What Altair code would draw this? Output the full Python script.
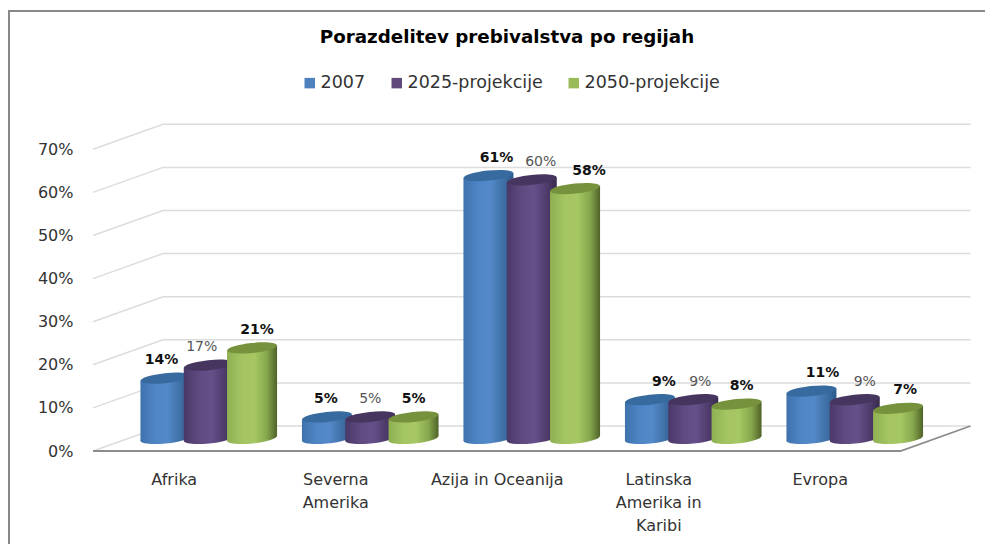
import altair as alt
import pandas as pd

CHART_TITLE = "Porazdelitev prebivalstva po regijah"
REGIONS = ["Afrika", "Severna|Amerika", "Azija in Oceanija", "Latinska|Amerika in|Karibi", "Evropa"]
SERIES = ["2007", "2025-projekcije", "2050-projekcije"]
V2007 = [14, 5, 61, 9, 11]
V2025 = [17, 5, 60, 9, 9]
V2050 = [21, 5, 58, 8, 7]
Y_TICKS = [0, 10, 20, 30, 40, 50, 60, 70]

# ---- layout of the pseudo 3D box, in scale units ----
STEP_PX = 161.5
PX_PER_PCT = 4.31
PLOT_W, PLOT_H = 892, 351
DEPTH_X = 70 / STEP_PX
DEPTH_Y = 25 / PX_PER_PCT
HALF_W = 25 / STEP_PX
TILT = 2.5 / PX_PER_PCT
SPACING = 43.3 / STEP_PX
FONT = "DejaVu Sans"

LEGEND_COLORS = ["#4f81bd", "#604a7b", "#9bbb59"]
TOP_COLORS = ["#376a9e", "#46355f", "#76923c"]
STOPS = [
    ["#3f72ad", "#4f86c6", "#5389c8", "#3f6fa5", "#2e5a8c"],
    ["#4a3868", "#604a80", "#66508a", "#4f3c6c", "#382a4c"],
    ["#8fb052", "#a4c562", "#a6c763", "#86a64c", "#4f6228"],
]
OFFSETS = [0, 0.3, 0.55, 0.8, 1]
VALUES = [V2007, V2025, V2050]
NUDGE_PX = [[-4, -1, 8, 14, 11], [-7, 0, 9, 7, 10], [5, 0, 14, 5, 7]]

x_scale = alt.Scale(domain=[0, PLOT_W / STEP_PX], nice=False, zero=False)
y_scale = alt.Scale(domain=[0, PLOT_H / PX_PER_PCT], nice=False, zero=False)
X = alt.X(
    "x:Q", scale=x_scale, title=None,
    axis=alt.Axis(
        values=[i + 0.5 for i in range(5)], grid=False, domain=False, ticks=False,
        labelExpr="split(['" + "','".join(REGIONS) + "'][floor(datum.value)], '|')",
        labelFont=FONT, labelFontSize=16, labelColor="#333333", labelPadding=20,
        labelLineHeight=23, labelBaseline="top", labelAlign="center", labelFlush=False, labelOverlap=False,
    ),
)
Y = alt.Y(
    "y:Q", scale=y_scale, title=None,
    axis=alt.Axis(
        values=Y_TICKS, grid=False, domain=False, ticks=False, format=".0f",
        labelExpr="datum.value + '%'", labelFont=FONT, labelFontSize=16,
        labelColor="#333333", labelPadding=20, labelOverlap=False,
    ),
)

# ---- grid / floor ----
grid_rows = []
for v in Y_TICKS:
    grid_rows += [
        {"x": 0, "y": v, "k": v},
        {"x": DEPTH_X, "y": v + DEPTH_Y, "k": v},
        {"x": 5 + DEPTH_X, "y": v + DEPTH_Y, "k": v},
    ]
floor_rows = [
    {"x": 0, "y": 0},
    {"x": 5, "y": 0},
    {"x": 5 + DEPTH_X, "y": DEPTH_Y},
]
grid = alt.Chart(pd.DataFrame(grid_rows)).mark_line(color="#dcdcdc", strokeWidth=1.5, clip=False).encode(
    x=X, y=Y, detail="k:N", order=alt.Order("x:Q"))
floor = alt.Chart(pd.DataFrame(floor_rows)).mark_line(color="#8c8c8c", strokeWidth=1.8, clip=False).encode(
    x=X, y=Y, order=alt.Order("x:Q"))


def gradient(stops):
    return alt.Gradient(
        gradient="linear", x1=0, y1=0, x2=1, y2=0,
        stops=[alt.GradientStop(offset=o, color=c) for o, c in zip(OFFSETS, stops)],
    )


ELLIPSE = "M-1,0A1,0.2,0,1,1,1,0A1,0.2,0,1,1,-1,0Z"
layers = [grid, floor]
label_rows = []
for s, name in enumerate(SERIES):
    body_rows, top_rows, base_rows = [], [], []
    for i, v in enumerate(VALUES[s]):
        c = i + 0.5 + DEPTH_X / 2 + (s - 1) * SPACING
        base = DEPTH_Y / 2
        body_rows += [
            {"x": c - HALF_W, "y": base + v - TILT, "y2": base - TILT, "k": i},
            {"x": c + HALF_W, "y": base + v + TILT, "y2": base + TILT, "k": i},
        ]
        top_rows.append({"x": c, "y": base + v})
        base_rows.append({"x": c, "y": base})
        label_rows.append({
            "x": c + NUDGE_PX[s][i] / STEP_PX, "y": base + v, "label": f"{v}%",
            "series": name, "bold": s != 1,
        })
    grad = gradient(STOPS[s])
    layers.append(alt.Chart(pd.DataFrame(base_rows)).mark_point(
        shape=ELLIPSE, size=(2 * 25) ** 2, filled=True, fill=grad, opacity=1, angle=354, strokeWidth=0
    ).encode(x=X, y=Y))
    layers.append(alt.Chart(pd.DataFrame(body_rows)).mark_area(
        fill=grad, opacity=1, clip=False, orient="vertical", interpolate="linear"
    ).encode(x=X, y=Y, y2=alt.Y2("y2:Q"), detail="k:N"))
    layers.append(alt.Chart(pd.DataFrame(top_rows)).mark_point(
        shape=ELLIPSE, size=(2 * 25) ** 2, filled=True, fill=TOP_COLORS[s], opacity=1, angle=354, strokeWidth=0
    ).encode(x=X, y=Y))

labels = pd.DataFrame(label_rows)
legend_layer = alt.Chart(labels).mark_square(size=0, opacity=1).encode(
    x=X, y=Y,
    color=alt.Color(
        "series:N", sort=SERIES, scale=alt.Scale(domain=SERIES, range=LEGEND_COLORS),
        legend=alt.Legend(
            orient="none", legendX=208, legendY=-26, direction="horizontal", columns=3, title=None,
            symbolType="square", symbolSize=110, symbolOpacity=1, symbolStrokeWidth=0,
            labelFont=FONT, labelFontSize=17.5, labelColor="#333333", labelOffset=2,
            columnPadding=22, padding=0,
        ),
    ),
)
layers.insert(0, legend_layer)

bold_text = alt.Chart(labels[labels.bold]).mark_text(
    font=FONT, fontSize=14, fontWeight="bold", color="#111111", dy=-18, baseline="middle"
).encode(x=X, y=Y, text="label:N")
plain_text = alt.Chart(labels[~labels.bold]).mark_text(
    font=FONT, fontSize=14, color="#555555", dy=-18, baseline="middle"
).encode(x=X, y=Y, text="label:N")
layers += [bold_text, plain_text]

# frame at the top and left of the picture
frame_left = alt.Chart(pd.DataFrame({"k": [0]})).mark_rule(color="#888888", strokeWidth=2, clip=False).encode(
    x=alt.value(-84), y=alt.value(-89), y2=alt.value(452))
frame_top = alt.Chart(pd.DataFrame({"k": [0]})).mark_rule(color="#888888", strokeWidth=2, clip=False).encode(
    x=alt.value(-85), x2=alt.value(900), y=alt.value(-89))
layers += [frame_left, frame_top]

chart = alt.layer(*layers).properties(
    width=PLOT_W, height=PLOT_H,
    padding={"left": 85, "top": 92, "right": 0, "bottom": 93},
    autosize=alt.AutoSizeParams(type="none"),
    background="white",
    title=alt.TitleParams(
        CHART_TITLE, font=FONT, fontSize=18.3, fontWeight="bold", color="#000000",
        anchor="middle", dx=-32, offset=-37,
    ),
).configure_view(stroke=None)

chart.save("out.html", embed_options={"renderer": "svg", "actions": False})
